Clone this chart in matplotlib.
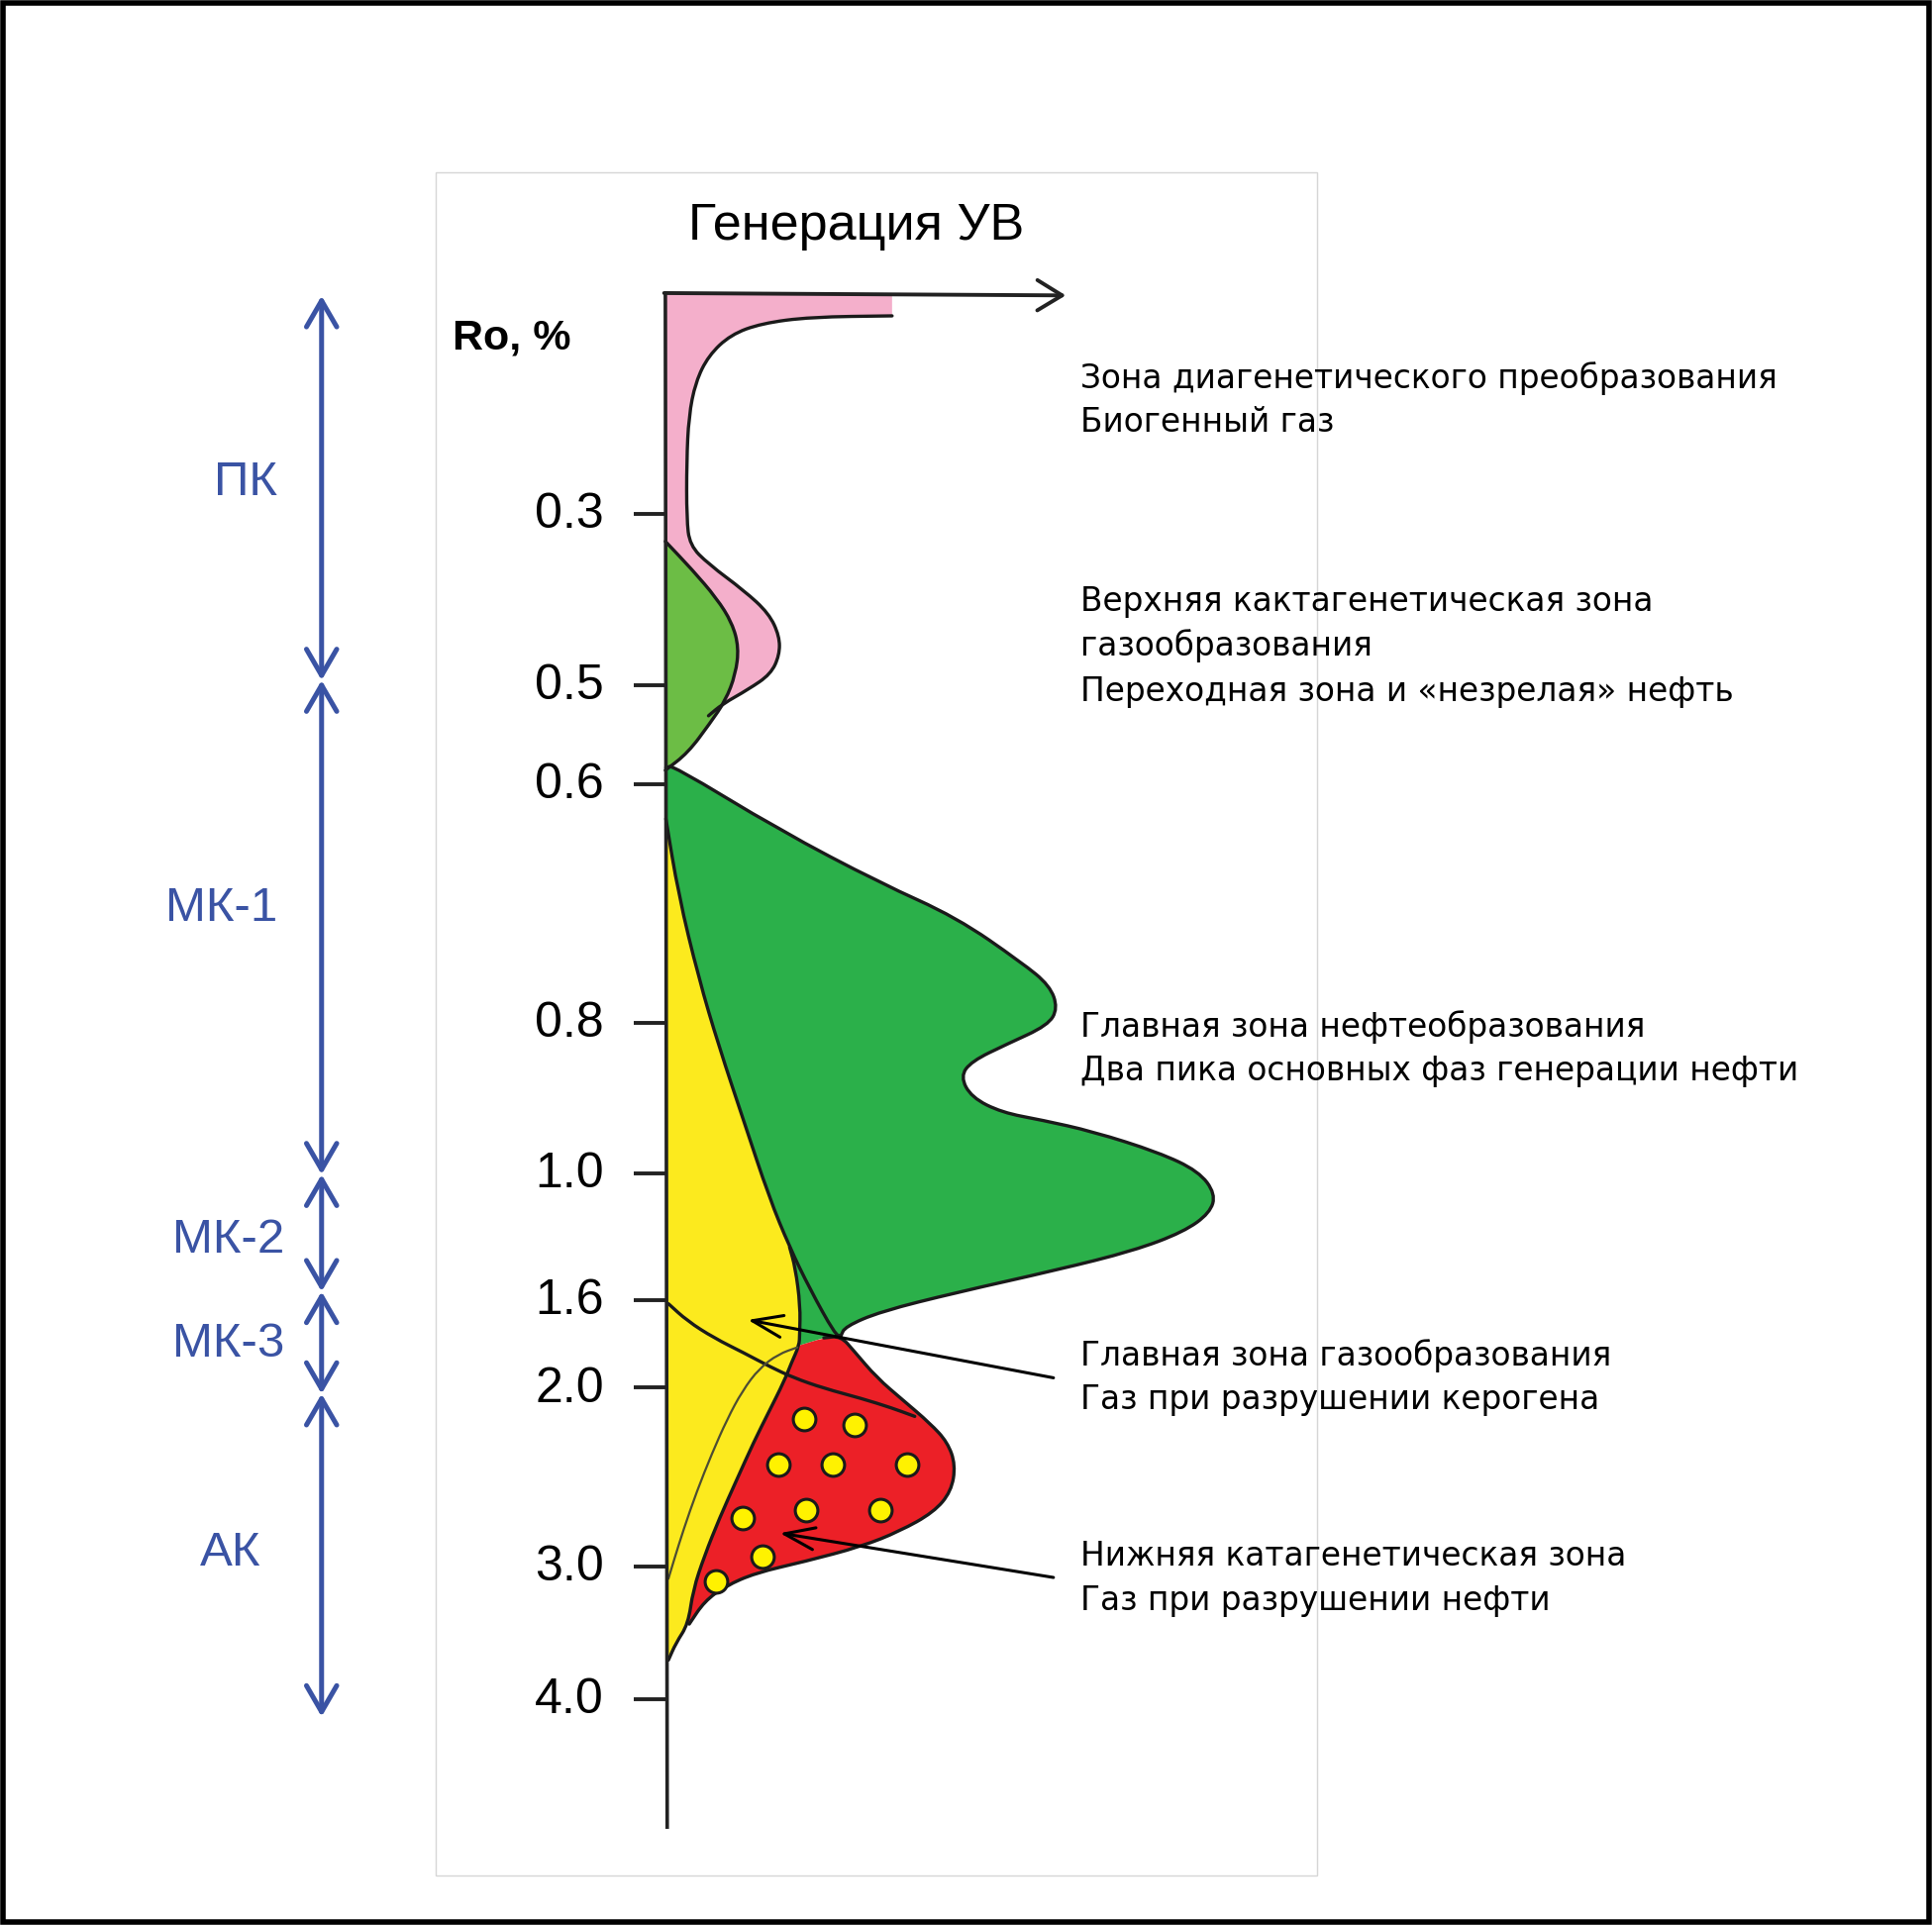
import matplotlib
matplotlib.use("Agg")
import matplotlib.pyplot as plt
from matplotlib.patches import Rectangle, PathPatch
from matplotlib.path import Path

# --- данные схемы (x = интенсивность генерации от оси, y = глубина в единицах рисунка) ---
RO_LABELS = ["0.3", "0.5", "0.6", "0.8", "1.0", "1.6", "2.0", "3.0", "4.0"]
RO_DEPTH = [417, 556, 636, 830, 952, 1055, 1126, 1271, 1379]

STAGE_NAMES = ["ПК", "МК-1", "МК-2", "МК-3", "АК"]
STAGE_BOUNDS = [240, 552, 953, 1048, 1131, 1393]
STAGE_LABEL_Y = [392, 737, 1006, 1091, 1260]
STAGE_LABEL_X = [-341, -360, -355, -355, -353]

# биогенный газ (розовый)
BIO_W = [184, 118, 78, 53, 35, 24.5, 19, 17.3, 17.3, 19.8, 35, 64, 84, 92.6, 92.6, 85.5, 67.5, 46, 35]
BIO_D = [256.3, 257.2, 262.4, 271.6, 288.6, 310.1, 337.8, 374.7, 420.8, 442.4, 457.7,
         479.3, 497.7, 516.2, 531.6, 547, 559.3, 571.5, 580.8]

# незрелая нефть (светло-зелёный)
IMM_W = [0, 21.9, 41.6, 54.2, 59.6, 57, 48.8, 36.2, 18.3, 0]
IMM_D = [439.3, 462.4, 485.4, 505.4, 525.4, 547, 568.5, 586.9, 610.9, 625]

# главная зона нефтеобразования (зелёный), внешний контур
OIL_W = [0.4, 6.5, 92.6, 174.6, 236.1, 289.4, 312, 318.5, 310.5, 277.1, 248.4, 239.5, 248.4, 273,
         305.8, 346.8, 400.1, 432.9, 446.5, 442, 420.6, 379.6, 318.1, 236.1, 174.6, 145.9, 142.4]
OIL_D = [622.8, 621.3, 673.5, 716.6, 744.3, 781.2, 799.7, 818.1, 832, 847.3, 861.2, 873.5, 890.4,
         902.7, 908.9, 918.1, 935, 950.4, 968.8, 984.2, 999.6, 1015, 1030.4, 1048.8, 1064.2, 1076.5, 1084.1]

# граница нефть / газ керогена
SPLIT_W = [0.4, 10.6, 27, 43.4, 63.9, 84.4, 100.8, 117.2, 137.7, 142.4]
SPLIT_D = [664.3, 725.8, 793.5, 848.9, 910.4, 972, 1011.9, 1045.7, 1082.7, 1084.1]

# правая граница жёлтой зоны (газ керогена)
KER_W = [100.8, 105.5, 109.5, 109, 108.6, 102.4, 96.3, 84, 71.7, 57.8, 44, 31.7, 22.5, 18.5, 8.6, 2.5]
KER_D = [1011.9, 1028.7, 1059.5, 1082.5, 1091.8, 1105.6, 1121, 1145.6, 1170.2, 1201, 1231.7,
         1262.5, 1290.2, 1317.8, 1333.2, 1347]

# газ при разрушении нефти (красный)
CRK_W = [108.6, 128.6, 142.4, 153.2, 171.6, 193.2, 214.7, 229, 235.5, 232, 217.8, 190.1, 159.4,
         113, 73.2, 48.6, 31.7, 19.4]
CRK_D = [1091.8, 1085.6, 1084.1, 1096.4, 1117.9, 1136.4, 1154.8, 1170.2, 1188.7, 1210.2, 1227.1,
         1242.5, 1254.8, 1267.1, 1276.3, 1287.1, 1299.4, 1317.8]

# линия от отметки 1.6
LINE16_W = [2.5, 17.8, 39.4, 64, 85.5, 104, 128.6, 159.4, 184, 202.4]
LINE16_D = [1057.9, 1071.8, 1085.6, 1097.9, 1109.3, 1117.9, 1126.5, 1134.8, 1142.5, 1149.3]

# тонкая линия
THIN_W = [107.1, 91.7, 76.3, 62.4, 50.1, 37.8, 25.5, 14.8, 7.1, 2.5]
THIN_D = [1093.3, 1098.8, 1110.2, 1128.7, 1151.7, 1179.4, 1210.2, 1241, 1265.6, 1281]

# жёлтые кружки в красной зоне
DOT_W = [112.3, 153.2, 91.7, 136.3, 196.3, 62.4, 114.1, 174.1, 78.8, 40.9]
DOT_D = [1151.1, 1156.4, 1188.7, 1188.7, 1188.7, 1231.7, 1225.6, 1225.6, 1263.1, 1283.4]

ZONE_TEXTS = [
    (307, "Зона диагенетического преобразования"),
    (343, "Биогенный газ"),
    (488, "Верхняя кактагенетическая зона"),
    (524, "газообразования"),
    (561, "Переходная зона и «незрелая» нефть"),
    (833, "Главная зона нефтеобразования"),
    (869, "Два пика основных фаз генерации нефти"),
    (1100, "Главная зона газообразования"),
    (1136, "Газ при разрушении керогена"),
    (1263, "Нижняя катагенетическая зона"),
    (1299, "Газ при разрушении нефти"),
]

BLUE = "#3A53A4"
EDGE = "#1a1a1a"


def piece(xs, ys, smooth=True):
    # кусок контура: квадратичные Безье через середины отрезков
    pts = list(zip(xs, ys))
    if not smooth or len(pts) < 3:
        return pts, [Path.LINETO] * len(pts)
    verts = [pts[0], ((pts[0][0] + pts[1][0]) / 2, (pts[0][1] + pts[1][1]) / 2)]
    codes = [Path.LINETO, Path.LINETO]
    for i in range(1, len(pts) - 1):
        nxt = ((pts[i][0] + pts[i + 1][0]) / 2, (pts[i][1] + pts[i + 1][1]) / 2)
        verts += [pts[i], nxt]
        codes += [Path.CURVE3, Path.CURVE3]
    verts.append(pts[-1])
    codes.append(Path.LINETO)
    return verts, codes


def make_path(pieces, close=False):
    verts, codes = [], []
    for v, c in pieces:
        verts += v
        codes += c
    codes[0] = Path.MOVETO
    if close:
        verts.append(verts[0])
        codes.append(Path.CLOSEPOLY)
    return Path(verts, codes)


def fill(ax, pieces, color):
    ax.add_patch(PathPatch(make_path(pieces, close=True), facecolor=color, edgecolor="none", lw=0))


def curve(ax, xs, ys, **kw):
    ax.add_patch(PathPatch(make_path([piece(xs, ys)]), facecolor="none", capstyle="round", **kw))


fig = plt.figure(figsize=(19.51, 19.44), dpi=100)
ax = fig.add_axes([0, 0, 1, 1])
ax.set_xlim(-540, 1028)
ax.set_ylim(1562, 0)
ax.axis("off")

# рамки
fig.patches.append(Rectangle((2.75 / 1951, 2.75 / 1944), 1 - 5.5 / 1951, 1 - 5.5 / 1944,
                             transform=fig.transFigure, fill=False, lw=4, edgecolor="black"))
ax.add_patch(Rectangle((-186, 140), 715, 1382, fill=False, lw=1, edgecolor="#d6d6d6"))

# заливки
fill(ax, [piece([0, 184], [238, 238], False), piece(BIO_W, BIO_D), piece([0], [580.8], False)],
     "#F4AFCB")
fill(ax, [piece(IMM_W, IMM_D)], "#6CBD45")
fill(ax, [piece(OIL_W, OIL_D), piece([128.6], [1085.6], False), piece(KER_W[4::-1], KER_D[4::-1]),
          piece(SPLIT_W[6::-1], SPLIT_D[6::-1])], "#2BB04A")
fill(ax, [piece(SPLIT_W[:7], SPLIT_D[:7]), piece(KER_W, KER_D), piece([0], [1347], False)],
     "#FCEA1E")
fill(ax, [piece(CRK_W, CRK_D), piece(KER_W[13:3:-1], KER_D[13:3:-1])], "#EC2027")

# контуры
lw = 2.4
curve(ax, BIO_W, BIO_D, edgecolor=EDGE, lw=lw)
curve(ax, IMM_W, IMM_D, edgecolor=EDGE, lw=lw)
curve(ax, OIL_W, OIL_D, edgecolor=EDGE, lw=lw)
curve(ax, SPLIT_W, SPLIT_D, edgecolor=EDGE, lw=lw)
curve(ax, KER_W, KER_D, edgecolor=EDGE, lw=lw)
curve(ax, CRK_W[1:], CRK_D[1:], edgecolor=EDGE, lw=lw)
curve(ax, LINE16_W, LINE16_D, edgecolor=EDGE, lw=lw)
curve(ax, THIN_W, THIN_D, edgecolor="#4d4d33", lw=1.6)

ax.scatter(DOT_W, DOT_D, s=270, color="#FFF200", edgecolor=EDGE, linewidth=2.2, zorder=5)

# ось Ro
ax.plot([0, 1.5], [237, 1484], color="#222222", lw=2.6, solid_capstyle="butt")
ax.annotate("", xy=(325, 239.7), xytext=(-1, 237.8),
            arrowprops=dict(arrowstyle="->,head_length=0.9,head_width=0.55", lw=2.8,
                            color="#222222", shrinkA=0, shrinkB=0, mutation_scale=20))
ax.hlines(RO_DEPTH, -26, 0, color="#222222", lw=2.8)
for lab, d in zip(RO_LABELS, RO_DEPTH):
    ax.text(-50, d + 1, lab, ha="right", va="center", fontsize=36, family="Liberation Sans")

ax.text(-173, 274, "Ro, %", ha="left", va="center", fontsize=31, fontweight="bold",
        family="Liberation Sans")
ax.text(155, 184, "Генерация УВ", ha="center", va="center", fontsize=37.5, family="Liberation Sans")

# шкала стадий
for i, name in enumerate(STAGE_NAMES):
    ax.annotate("", xy=(-279, STAGE_BOUNDS[i + 1]), xytext=(-279, STAGE_BOUNDS[i]),
                arrowprops=dict(arrowstyle="<->,head_length=0.95,head_width=0.55", lw=3.6,
                                color=BLUE, shrinkA=0, shrinkB=0, mutation_scale=20))
    ax.text(STAGE_LABEL_X[i], STAGE_LABEL_Y[i], name, ha="center", va="center",
            fontsize=35.5, color=BLUE, family="Liberation Sans")

# подписи зон
for y, txt in ZONE_TEXTS:
    ax.text(337, y, txt, ha="left", va="center", fontsize=23.6, family="DejaVu Sans")

# стрелки-указатели
for tail, tip in [((315, 1118), (67, 1071)), ((315, 1280), (93, 1244))]:
    ax.annotate("", xy=tip, xytext=tail,
                arrowprops=dict(arrowstyle="->,head_length=1.1,head_width=0.4", lw=2.2,
                                color="black", shrinkA=0, shrinkB=0, mutation_scale=20))

fig.savefig("out.png", dpi=100)
